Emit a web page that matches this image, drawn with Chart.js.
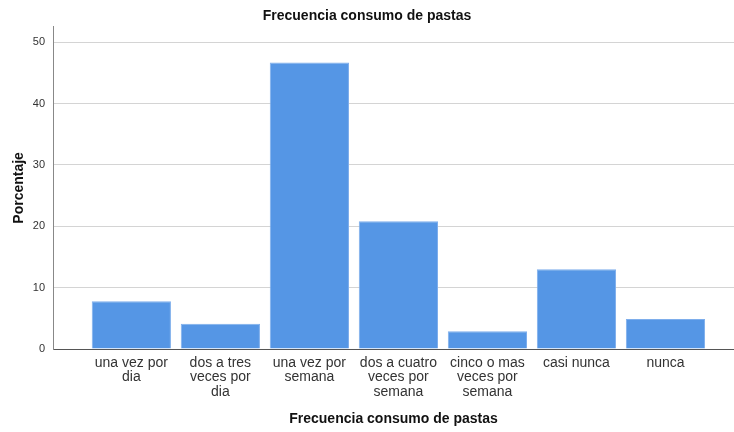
<!DOCTYPE html>
<html>
<head>
<meta charset="utf-8">
<script src="https://cdn.jsdelivr.net/npm/chart.js@4/dist/chart.umd.min.js"></script>
<style>
  body { margin: 0; background: #fff; }
  #wrap { width: 734px; height: 432px; }
</style>
</head>
<body>
<div id="wrap"><canvas id="chart" width="734" height="432"></canvas></div>
<script>
// Datos
const categorias = [
    ['una vez por', 'dia'],
    ['dos a tres', 'veces por', 'dia'],
    ['una vez por', 'semana'],
    ['dos a cuatro', 'veces por', 'semana'],
    ['cinco o mas', 'veces por', 'semana'],
    ['casi nunca'],
    ['nunca']
];
const porcentajes = [7.8, 4.1, 46.7, 20.8, 2.9, 13.0, 4.9];
const ticksY = [0, 10, 20, 30, 40, 50];

const puntos = porcentajes.map((v, i) => ({ x: i, y: v }));
const fuente = "'Liberation Sans', Arial, sans-serif";

new Chart(document.getElementById('chart').getContext('2d'), {
    type: 'bar',
    data: {
        datasets: [{
            label: 'Porcentaje',
            data: puntos,
            backgroundColor: '#5596e5',
            borderColor: '#7eaeec',
            borderWidth: 1,
            barPercentage: 0.89,
            categoryPercentage: 1
        }]
    },
    options: {
        responsive: false,
        animation: false,
        layout: { padding: { top: 0, right: 0, left: 0, bottom: 0 } },
        plugins: {
            legend: { display: false },
            tooltip: { enabled: false },
            title: {
                display: true,
                text: 'Frecuencia consumo de pastas',
                color: '#111',
                font: { family: fuente, size: 14, weight: 'bold' },
                padding: { top: 8, bottom: 2 }
            }
        },
        scales: {
            x: {
                type: 'linear',
                offset: false,
                min: -0.88,
                max: 6.77,
                afterBuildTicks: (s) => { s.ticks = categorias.map((c, i) => ({ value: i })); },
                afterFit: (s) => { s.height = 83; },
                grid: { display: false, drawTicks: false },
                border: { color: '#555', width: 1 },
                ticks: {
                    autoSkip: false,
                    maxRotation: 0,
                    padding: 7,
                    color: '#333',
                    font: { family: fuente, size: 14, lineHeight: 1.02 },
                    callback: (v) => categorias[v]
                },
                title: {
                    display: true,
                    text: 'Frecuencia consumo de pastas',
                    color: '#111',
                    font: { family: fuente, size: 14, weight: 'bold' },
                    padding: { top: 0, bottom: 4 }
                }
            },
            y: {
                min: 0,
                max: 52.5,
                afterBuildTicks: (s) => { s.ticks = ticksY.map(v => ({ value: v })); },
                afterFit: (s) => { s.width = 53; },
                grid: { color: '#d4d4d4', lineWidth: 1, drawTicks: false },
                border: { color: '#888', width: 1 },
                ticks: {
                    padding: 8,
                    color: '#333',
                    font: { family: fuente, size: 11 }
                },
                title: {
                    display: true,
                    text: 'Porcentaje',
                    color: '#111',
                    font: { family: fuente, size: 14, weight: 'bold' },
                    padding: { top: 11, bottom: 0 }
                }
            }
        }
    }
});
</script>
</body>
</html>
